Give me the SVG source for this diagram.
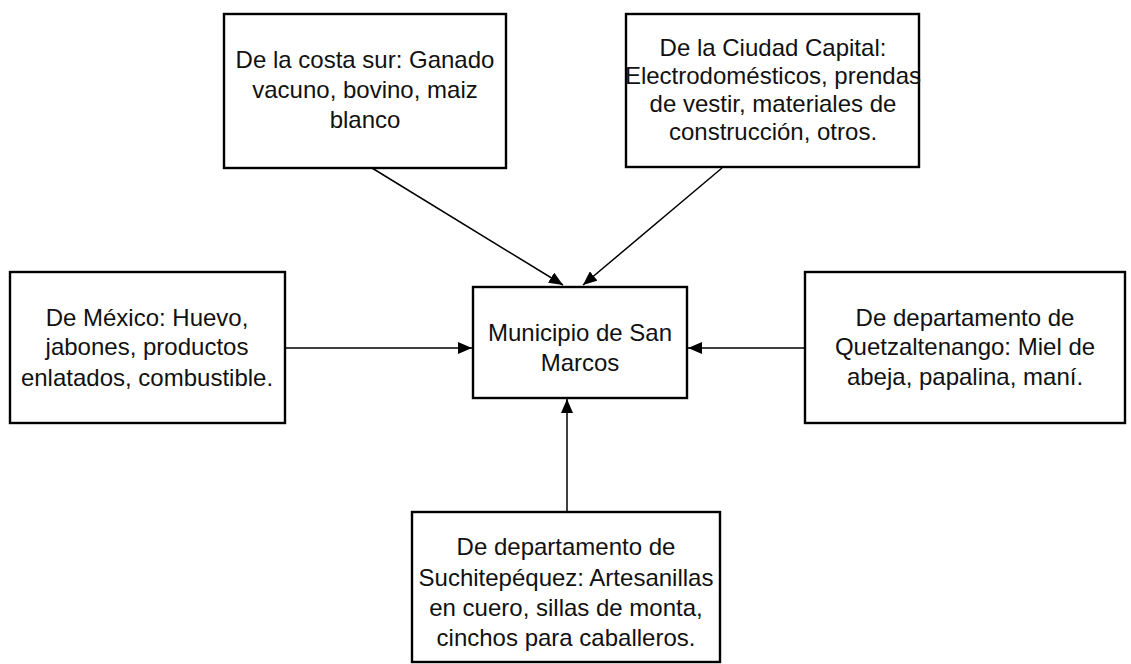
<svg xmlns="http://www.w3.org/2000/svg" width="1131" height="664" viewBox="0 0 1131 664">
<style>
.box{fill:#fff;stroke:#000;stroke-width:2.4}
.t{font-family:"Liberation Sans",Arial,sans-serif;font-size:24px;fill:#111;text-anchor:middle}
.c{stroke:#000;stroke-width:1.5;fill:none;marker-end:url(#ah)}
</style>
<defs>
<marker id="ah" viewBox="0 0 14 12" refX="14" refY="6" markerWidth="14" markerHeight="12" markerUnits="userSpaceOnUse" orient="auto">
<path d="M0,0 L14,6 L0,12 z" fill="#000"/>
</marker>
</defs>
<rect width="1131" height="664" fill="#fff"/>
<g id="connectors">
<line class="c" x1="372" y1="168" x2="563" y2="285"/>
<line class="c" x1="722" y1="168" x2="583" y2="285"/>
<line class="c" x1="285" y1="348" x2="472" y2="348"/>
<line class="c" x1="805" y1="348" x2="688" y2="348"/>
<line class="c" x1="567" y1="512" x2="567" y2="399"/>
</g>
<g id="costa-sur">
<rect class="box" x="224" y="14" width="282" height="154"/>
<text class="t" x="365" y="68">De la costa sur: Ganado</text>
<text class="t" x="365" y="98">vacuno, bovino, maiz</text>
<text class="t" x="365" y="128">blanco</text>
</g>
<g id="ciudad-capital">
<rect class="box" x="626" y="14" width="293" height="153"/>
<text class="t" x="773" y="56">De la Ciudad Capital:</text>
<text class="t" x="773" y="84">Electrodomésticos, prendas</text>
<text class="t" x="773" y="112">de vestir, materiales de</text>
<text class="t" x="773" y="140">construcción, otros.</text>
</g>
<g id="mexico">
<rect class="box" x="10" y="272" width="275" height="151"/>
<text class="t" x="147" y="326">De México: Huevo,</text>
<text class="t" x="147" y="355">jabones, productos</text>
<text class="t" x="147" y="386">enlatados, combustible.</text>
</g>
<g id="san-marcos">
<rect class="box" x="473" y="287" width="214" height="111"/>
<text class="t" x="580" y="341">Municipio de San</text>
<text class="t" x="580" y="371">Marcos</text>
</g>
<g id="quetzaltenango">
<rect class="box" x="805" y="272" width="320" height="151"/>
<text class="t" x="965" y="326">De departamento de</text>
<text class="t" x="965" y="355">Quetzaltenango: Miel de</text>
<text class="t" x="965" y="385">abeja, papalina, maní.</text>
</g>
<g id="suchitepequez">
<rect class="box" x="412" y="512" width="308" height="150"/>
<text class="t" x="566" y="555">De departamento de</text>
<text class="t" x="566" y="586">Suchitepéquez: Artesanillas</text>
<text class="t" x="566" y="616">en cuero, sillas de monta,</text>
<text class="t" x="566" y="646">cinchos para caballeros.</text>
</g>
</svg>
